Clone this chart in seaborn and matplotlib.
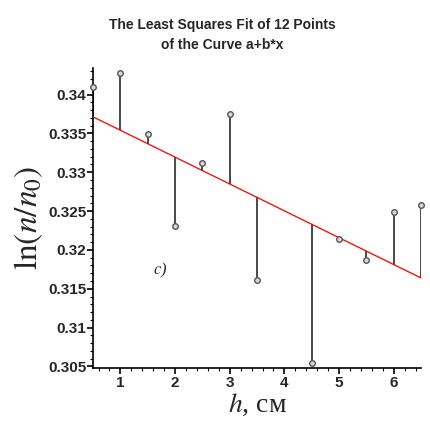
import numpy as np
import pandas as pd
import matplotlib
matplotlib.use("Agg")
import matplotlib.pyplot as plt
from matplotlib.ticker import MultipleLocator
import seaborn as sns

# data
h_cm = [0.5, 1.0, 1.5, 2.0, 2.5, 3.0, 3.5, 4.5, 5.0, 5.5, 6.0, 6.5]
ln_ratio = [0.3410, 0.3428, 0.3349, 0.3231, 0.3312, 0.3375,
            0.3161, 0.3054, 0.3214, 0.3187, 0.3249, 0.3258]
x_ticks = [1, 2, 3, 4, 5, 6]
y_ticks = [0.305, 0.31, 0.315, 0.32, 0.325, 0.33, 0.335, 0.34]

df = pd.DataFrame({"h": h_cm, "y": ln_ratio})

# least squares line a + b*x
b, a = np.polyfit(df["h"], df["y"], 1)
df["fit"] = a + b * df["h"]

sns.set_style("white")
plt.rcParams["font.family"] = ["Liberation Sans Narrow", "Liberation Sans", "DejaVu Sans"]
plt.rcParams["mathtext.fontset"] = "stix"

fig = plt.figure(figsize=(4.31, 4.21), dpi=100)
ax = fig.add_axes([0.216, 0.126, 0.761, 0.712])

# residual stems
ax.vlines(df["h"], df["fit"], df["y"], color="#3a3a3a", lw=1.3, zorder=2)
sns.lineplot(data=df, x="h", y="fit", color="red", lw=0.9, ax=ax, zorder=3)
sns.scatterplot(data=df, x="h", y="y", marker="o", s=16, facecolor="#d8d8d8",
                edgecolor="#555555", linewidth=1.0, ax=ax, zorder=4, clip_on=False)

ax.set_xlim(0.5, 6.5)
ax.set_ylim(0.3048, 0.3434)
ax.set_xticks(x_ticks)
ax.set_yticks(y_ticks)
ax.set_xticklabels([str(t) for t in x_ticks], fontweight="bold", fontsize=11)
ax.set_yticklabels(["%g" % t for t in y_ticks], fontweight="bold", fontsize=11)
ax.xaxis.set_minor_locator(MultipleLocator(0.2))
ax.yaxis.set_minor_locator(MultipleLocator(0.001))
ax.tick_params(axis="both", which="major", direction="out", length=4, width=1.2,
               pad=1, color="black", bottom=True, left=True)
ax.tick_params(axis="x", which="major", pad=2)
ax.tick_params(axis="both", which="minor", direction="out", length=2, width=0.8,
               color="black", bottom=True, left=True)

sns.despine(ax=ax)
ax.spines["left"].set_linewidth(1.2)
ax.spines["bottom"].set_linewidth(1.2)
ax.spines["left"].set_color("black")
ax.spines["bottom"].set_color("black")

ax.set_xlabel(r"$h$, см", fontsize=20, family=["Liberation Serif", "DejaVu Serif"], labelpad=1)
ax.set_ylabel(r"$\mathrm{ln}(n/n_0)$", fontsize=24, labelpad=2)
ax.text(1.72, 0.3173, r"$c$)", fontsize=12, family=["Liberation Serif", "DejaVu Serif"],
        style="italic", ha="center", va="center")

fig.suptitle("The Least Squares Fit of 12 Points\nof the Curve a+b*x", x=0.515, y=0.958,
             fontsize=10, fontweight="heavy", linespacing=1.6)

plt.savefig("out.png", dpi=100)
